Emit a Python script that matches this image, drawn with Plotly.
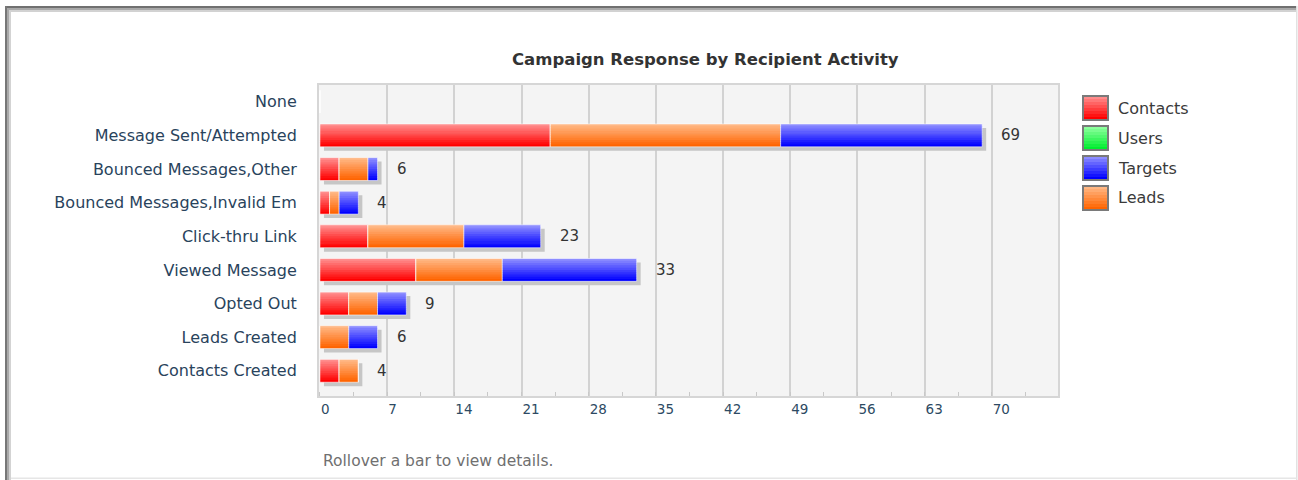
import plotly.graph_objects as go

# ---------------- data ----------------
categories = ["None", "Message Sent/Attempted", "Bounced Messages,Other",
              "Bounced Messages,Invalid Em", "Click-thru Link", "Viewed Message",
              "Opted Out", "Leads Created", "Contacts Created"]
contacts = [0, 24, 2, 1, 5, 10, 3, 0, 2]
users    = [0, 0, 0, 0, 0, 0, 0, 0, 0]
leads    = [0, 24, 3, 1, 10, 9, 3, 3, 2]
targets  = [0, 21, 1, 2, 8, 14, 3, 3, 0]
x_ticks = [0, 7, 14, 21, 28, 35, 42, 49, 56, 63, 70]
legend_names = ["Contacts", "Users", "Targets", "Leads"]
title_text = "Campaign Response by Recipient Activity"
footer_text = "Rollover a bar to view details."

series = {"Contacts": contacts, "Users": users, "Targets": targets, "Leads": leads}
stack_order = ["Contacts", "Users", "Leads", "Targets"]
totals = [sum(v) for v in zip(contacts, users, leads, targets)]

# ---------------- style ----------------
W, H = 1298, 480
ML, MR, MT, MB = 319, 240, 85, 84
PW, PH = W - ML - MR, H - MT - MB
XMIN, XMAX = -0.1, 76.9
YR = [8.75, -0.5]
BW = 0.68
K = 10
grad = {
    "Contacts": ("#ff8c8c", "#ff0000"),
    "Users": ("#8cff9c", "#00ee30"),
    "Targets": ("#8c8cff", "#0000ff"),
    "Leads": ("#ffb784", "#ff6400"),
}
FONT = "DejaVu Sans"


def lerp(c1, c2, t):
    a = [int(c1[i:i + 2], 16) for i in (1, 3, 5)]
    b = [int(c2[i:i + 2], 16) for i in (1, 3, 5)]
    return "#%02x%02x%02x" % tuple(round(a[i] + (b[i] - a[i]) * t) for i in range(3))


def px(x):
    return (x - ML) / PW


def py(y):
    return 1 - (y - MT) / PH


fig = go.Figure()

# shadow
shx = 4 * (XMAX - XMIN) / PW
shy = 4 * (YR[0] - YR[1]) / PH
fig.add_trace(go.Bar(y=categories, x=totals, base=shx, orientation="h",
                     width=BW, offset=-BW / 2 + shy,
                     marker=dict(color="#c6c6c6", line=dict(width=0)),
                     hoverinfo="skip", showlegend=False))

# stacked gradient bars
base = [0] * len(categories)
for name in stack_order:
    vals = series[name]
    top, bot = grad[name]
    for k in range(K):
        w = BW / K + (0.02 if k < K - 1 else 0)
        fig.add_trace(go.Bar(y=categories, x=vals, base=list(base), orientation="h",
                             width=w, offset=-BW / 2 + k * BW / K,
                             marker=dict(color=lerp(top, bot, k / (K - 1)), line=dict(width=0)),
                             hoverinfo="skip", showlegend=False))
    fig.add_trace(go.Bar(y=categories, x=vals, base=list(base), orientation="h",
                         width=BW, offset=-BW / 2, name=name,
                         marker=dict(color="rgba(0,0,0,0)",
                                     line=dict(width=1, color="rgba(255,255,255,0.55)")),
                         showlegend=False))
    base = [b + v for b, v in zip(base, vals)]

shapes = []
annotations = []

# total labels
for cat, t in zip(categories, totals):
    if t > 0:
        annotations.append(dict(x=t, y=cat, xref="x", yref="y", text=str(t),
                                showarrow=False, xanchor="left", xshift=17,
                                font=dict(family=FONT, size=15, color="#333333")))

# title & footer
annotations.append(dict(x=px(705), y=py(60), xref="paper", yref="paper", text="<b>%s</b>" % title_text,
                        showarrow=False, xanchor="center", yanchor="middle",
                        font=dict(family=FONT, size=16.5, color="#333333")))
annotations.append(dict(x=px(321), y=py(461), xref="paper", yref="paper", text=footer_text,
                        showarrow=False, xanchor="left", yanchor="middle",
                        font=dict(family=FONT, size=15.5, color="#707070")))

# custom legend
for j, name in enumerate(legend_names):
    cy = 108 + 30 * j
    x0, x1 = 1083, 1108
    y0, y1 = cy - 12, cy + 12
    top, bot = grad[name]
    nb = 8
    for k in range(nb):
        ya = y0 + (y1 - y0) * k / nb
        yb = y0 + (y1 - y0) * (k + 1) / nb
        shapes.append(dict(type="rect", xref="paper", yref="paper",
                           x0=px(x0), x1=px(x1), y0=py(ya), y1=py(yb + 0.3),
                           fillcolor=lerp(top, bot, k / (nb - 1)), line=dict(width=0), layer="above"))
    shapes.append(dict(type="rect", xref="paper", yref="paper",
                       x0=px(x0), x1=px(x1), y0=py(y0), y1=py(y1),
                       fillcolor="rgba(0,0,0,0)", line=dict(width=2, color="#7a7a7a"), layer="above"))
    annotations.append(dict(x=px(1115.5), y=py(cy), xref="paper", yref="paper", text=name,
                            showarrow=False, xanchor="left", yanchor="middle",
                            font=dict(family=FONT, size=16, color="#3a3a3a")))

# outer frame
def band(xa, xb, ya, yb, col):
    shapes.append(dict(type="rect", xref="paper", yref="paper",
                       x0=px(xa), x1=px(xb), y0=py(ya), y1=py(yb),
                       fillcolor=col, line=dict(width=0), layer="above"))

band(5, 1297, 6, 8, "#707070")
band(7, 1297, 8, 10, "#a8a8a8")
band(9, 1297, 10, 12, "#d2d2d2")
band(5, 7, 6, 480, "#777777")
band(7, 9, 8, 480, "#a9a9a9")
band(9, 11, 10, 480, "#d3d3d3")
band(1296, 1297.5, 6, 480, "#e2e2e2")
band(11, 1297, 477.5, 479, "#e6e6e6")

fig.update_layout(
    width=W, height=H,
    margin=dict(l=ML, r=MR, t=MT, b=MB, pad=0),
    paper_bgcolor="white", plot_bgcolor="#f4f4f4",
    barmode="overlay", showlegend=False,
    shapes=shapes, annotations=annotations,
    xaxis=dict(range=[XMIN, XMAX], tickvals=x_ticks, ticktext=[str(v) for v in x_ticks],
               showgrid=True, gridcolor="#d2d2d2", gridwidth=2, zeroline=False,
               ticks="", ticklabelposition="outside right",
               tickfont=dict(family=FONT, size=13.5, color="#2d4a63"),
               minor=dict(dtick=3.5, tick0=0, ticks="inside", ticklen=4,
                          tickcolor="#c8c8c8", tickwidth=1, showgrid=False),
               showline=True, linecolor="#d6d6d6", linewidth=2, mirror=True, fixedrange=True),
    yaxis=dict(type="category", categoryorder="array", categoryarray=categories,
               range=YR, showgrid=False, zeroline=False,
               ticks="outside", ticklen=17, tickcolor="rgba(0,0,0,0)",
               tickfont=dict(family=FONT, size=16, color="#29435c"),
               showline=True, linecolor="#d6d6d6", linewidth=2, mirror=True, fixedrange=True),
)

fig.write_html("out.html", config={"displayModeBar": False},
               post_script="document.body.style.margin='0';document.documentElement.style.overflow='hidden';")
